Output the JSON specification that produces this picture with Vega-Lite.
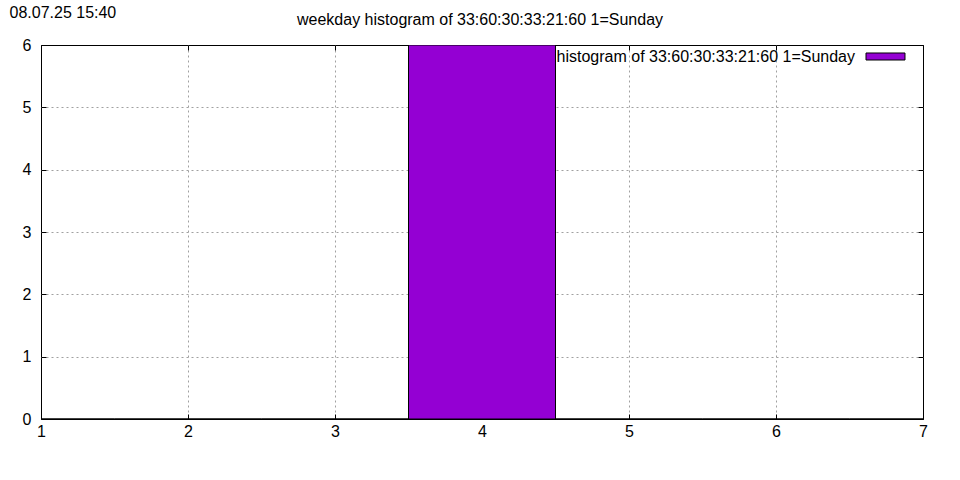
{
  "$schema": "https://vega.github.io/schema/vega-lite/v6.json",
  "width": 882,
  "height": 374,
  "autosize": {"type": "none"},
  "padding": {"left": 41, "top": 45, "right": 37, "bottom": 61},
  "background": "white",
  "config": {
    "font": "Liberation Sans",
    "view": {"stroke": "black", "strokeWidth": 1},
    "axis": {
      "labelFont": "Liberation Sans",
      "labelFontSize": 16,
      "labelColor": "black",
      "domain": false,
      "tickColor": "black",
      "tickSize": -5,
      "gridDash": [2, 3],
      "gridWidth": 1,
      "gridOpacity": 1
    }
  },
  "title": {
    "text": "weekday histogram of 33:60:30:33:21:60 1=Sunday",
    "font": "Liberation Sans",
    "fontSize": 16,
    "fontWeight": "normal",
    "color": "black",
    "anchor": "middle",
    "baseline": "alphabetic",
    "offset": -37,
    "dx": -2
  },
  "data": {
    "values": [
      {"day": 1, "start": 0.5, "end": 1.5, "count": 0, "series": "histogram of 33:60:30:33:21:60 1=Sunday"},
      {"day": 2, "start": 1.5, "end": 2.5, "count": 0, "series": "histogram of 33:60:30:33:21:60 1=Sunday"},
      {"day": 3, "start": 2.5, "end": 3.5, "count": 0, "series": "histogram of 33:60:30:33:21:60 1=Sunday"},
      {"day": 4, "start": 3.5, "end": 4.5, "count": 6, "series": "histogram of 33:60:30:33:21:60 1=Sunday"},
      {"day": 5, "start": 4.5, "end": 5.5, "count": 0, "series": "histogram of 33:60:30:33:21:60 1=Sunday"},
      {"day": 6, "start": 5.5, "end": 6.5, "count": 0, "series": "histogram of 33:60:30:33:21:60 1=Sunday"},
      {"day": 7, "start": 6.5, "end": 7.5, "count": 0, "series": "histogram of 33:60:30:33:21:60 1=Sunday"}
    ]
  },
  "resolve": {"axis": {"x": "independent", "y": "independent"}},
  "layer": [
    {
      "mark": {"type": "bar", "stroke": "black", "strokeWidth": 1, "clip": true, "opacity": 1},
      "encoding": {
        "x": {
          "field": "start", "type": "quantitative",
          "scale": {"domain": [1, 7], "nice": false, "zero": false},
          "axis": {
            "title": null, "values": [1, 2, 3, 4, 5, 6, 7], "grid": true, "labelPadding": 9, "labelFlush": false,
            "gridColor": {"condition": {"test": "datum.value == 1 || datum.value == 7", "value": "transparent"}, "value": "#a0a0a0"}
          }
        },
        "x2": {"field": "end"},
        "y": {
          "field": "count", "type": "quantitative",
          "scale": {"domain": [0, 6], "nice": false},
          "axis": {
            "title": "08.07.25 15:40",
            "titleAngle": 0,
            "titleAlign": "left",
            "titleBaseline": "alphabetic",
            "titleX": -32,
            "titleY": -28,
            "titleFont": "Liberation Sans",
            "titleFontSize": 16,
            "titleFontWeight": "normal",
            "titleColor": "black",
            "values": [0, 1, 2, 3, 4, 5, 6],
            "grid": true,
            "gridColor": {"condition": {"test": "datum.value == 0 || datum.value == 6", "value": "transparent"}, "value": "#a0a0a0"},
            "labelPadding": 15,
            "labelFlush": false
          }
        },
        "y2": {"datum": 0},
        "color": {
          "field": "series", "type": "nominal",
          "scale": {"range": ["#9400d3"]},
          "legend": {
            "title": null,
            "orient": "none",
            "legendX": 834,
            "legendY": 1,
            "padding": 0,
            "symbolType": "M-2,-0.36H2V0.36H-2Z",
            "symbolSize": 380,
            "symbolStrokeColor": "black",
            "symbolStrokeWidth": 1,
            "symbolFillColor": "#9400d3",
            "symbolOpacity": 1,
            "labelAlign": "right",
            "labelOffset": -41,
            "labelFont": "Liberation Sans",
            "labelFontSize": 16,
            "labelColor": "black",
            "labelLimit": 0
          }
        }
      }
    },
    {
      "mark": {"type": "bar", "opacity": 0},
      "encoding": {
        "x": {
          "field": "start", "type": "quantitative",
          "axis": {"orient": "top", "title": null, "values": [1, 2, 3, 4, 5, 6, 7], "labels": false, "grid": false}
        },
        "x2": {"field": "end"},
        "y": {
          "field": "count", "type": "quantitative",
          "axis": {"orient": "right", "title": null, "values": [0, 1, 2, 3, 4, 5, 6], "labels": false, "grid": false}
        },
        "y2": {"datum": 0}
      }
    }
  ]
}
